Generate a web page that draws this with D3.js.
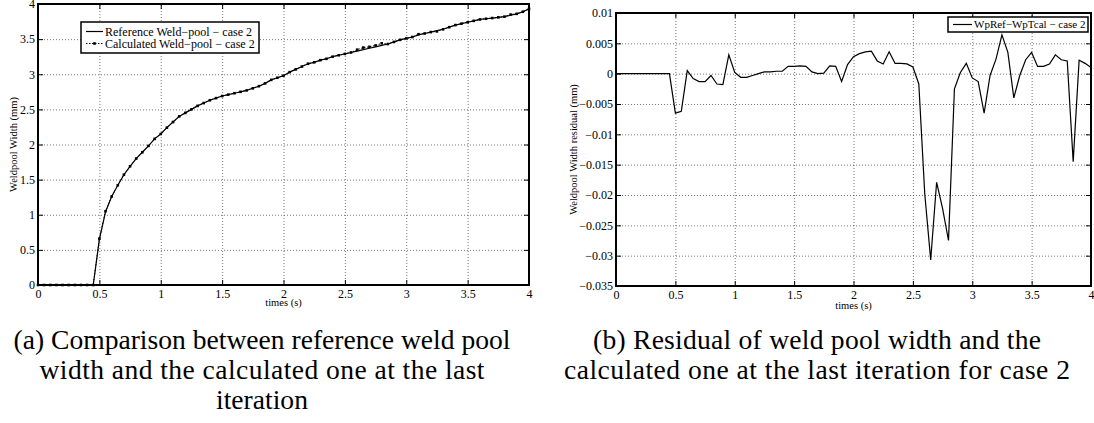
<!DOCTYPE html>
<html lang="en">
<head>
<meta charset="UTF-8" />
<title>Weld pool width - case 2</title>
<style>
  body { margin: 0; background: #fff; }
  .grid line { stroke: #555; stroke-width: 0.8; stroke-dasharray: 1,2; }
  .grid path, .ticks path { display: none; }
  .ticks line { stroke: #000; stroke-width: 1; }
</style>
</head>
<body>
<svg id="chart" width="1094" height="423"></svg>
<script src="https://cdn.jsdelivr.net/npm/d3@7/dist/d3.min.js"></script>
<script>
// sample times (s), every 0.05 s
var times = [0,0.05,0.1,0.15,0.2,0.25,0.3,0.35,0.4,0.45,
  0.5,0.55,0.6,0.65,0.7,0.75,0.8,0.85,0.9,0.95,
  1,1.05,1.1,1.15,1.2,1.25,1.3,1.35,1.4,1.45,
  1.5,1.55,1.6,1.65,1.7,1.75,1.8,1.85,1.9,1.95,
  2,2.05,2.1,2.15,2.2,2.25,2.3,2.35,2.4,2.45,
  2.5,2.55,2.6,2.65,2.7,2.75,2.8,2.85,2.9,2.95,
  3,3.05,3.1,3.15,3.2,3.25,3.3,3.35,3.4,3.45,
  3.5,3.55,3.6,3.65,3.7,3.75,3.8,3.85,3.9,3.95,4];

// reference weld pool width (mm)
var refWidth = [0,0,0,0,0,0,0,0,0,0,
  0.65,1.04,1.26,1.42,1.57,1.69,1.80,1.89,1.98,2.08,
  2.15,2.24,2.32,2.40,2.45,2.50,2.55,2.59,2.63,2.66,
  2.69,2.71,2.73,2.75,2.77,2.80,2.83,2.87,2.92,2.95,
  2.98,3.03,3.07,3.11,3.15,3.17,3.20,3.22,3.25,3.27,
  3.29,3.31,3.33,3.35,3.37,3.39,3.41,3.43,3.46,3.49,
  3.51,3.53,3.56,3.58,3.60,3.62,3.64,3.67,3.70,3.72,
  3.74,3.76,3.78,3.79,3.80,3.81,3.82,3.84,3.86,3.89,3.93];

// calculated weld pool width (mm)
var calcWidth = [0,0,0,0,0,0,0,0,0,0,
  0.66,1.05,1.26,1.42,1.57,1.69,1.80,1.89,1.98,2.08,
  2.15,2.24,2.32,2.40,2.45,2.50,2.55,2.59,2.63,2.66,
  2.69,2.71,2.73,2.75,2.77,2.80,2.83,2.87,2.92,2.95,
  2.98,3.03,3.07,3.11,3.15,3.17,3.20,3.22,3.25,3.27,
  3.29,3.31,3.35,3.38,3.39,3.41,3.44,3.43,3.46,3.49,
  3.51,3.53,3.57,3.58,3.60,3.61,3.64,3.67,3.70,3.72,
  3.74,3.76,3.78,3.79,3.80,3.81,3.82,3.85,3.86,3.89,3.93];

// WpRef - WpTcal (mm)
var residual = [0,0,0,0,0,0,0,0,0,0,
  -0.0065,-0.0062,0.0005,-0.0008,-0.0013,-0.0013,-0.0003,-0.0017,-0.0018,0.0031,
  0.0002,-0.0006,-0.0006,-0.0003,0.0000,0.0003,0.0003,0.0004,0.0004,0.0012,
  0.0012,0.0013,0.0012,0.0003,0.0000,0.0001,0.0013,0.0012,-0.0013,0.0015,
  0.0028,0.0033,0.0036,0.0037,0.0021,0.0016,0.0036,0.0017,0.0017,0.0016,
  0.0011,-0.0017,-0.0198,-0.0307,-0.0179,-0.0222,-0.0275,-0.0025,0.0002,0.0017,
  -0.0007,-0.0013,-0.0065,-0.0003,0.0024,0.0064,0.0035,-0.0040,-0.0003,0.0023,
  0.0035,0.0012,0.0012,0.0016,0.0031,0.0023,0.0021,-0.0145,0.0022,0.0017,0.0010];

var xTicks = [0,0.5,1,1.5,2,2.5,3,3.5,4];
var xTickLabels = ["0","0.5","1","1.5","2","2.5","3","3.5","4"];
var widthTicks = [0,0.5,1,1.5,2,2.5,3,3.5,4];
var widthTickLabels = ["0","0.5","1","1.5","2","2.5","3","3.5","4"];
var residualTicks = [-0.035,-0.03,-0.025,-0.02,-0.015,-0.01,-0.005,0,0.005,0.01];
var residualTickLabels = ["\u22120.035","\u22120.03","\u22120.025","\u22120.02","\u22120.015","\u22120.01","\u22120.005","0","0.005","0.01"];

var captionA = ["(a) Comparison between reference weld pool", "width and the calculated one at the last", "iteration"];
var captionB = ["(b) Residual of weld pool width and the", "calculated one at the last iteration for case 2"];
// rendered widths of the caption lines (null = natural width)
var captionAWidths = [497, 445, null];
var captionBWidths = [448, 506];

var serif = '"Liberation Serif", "DejaVu Serif", serif';
var svg = d3.select("#chart").style("font-family", serif);

function labelFn(ticks, labels) {
  return function(d) { return labels[ticks.indexOf(d)]; };
}

function addText(parent, size) {
  return parent.append("text").style("font-family", serif).style("font-size", size + "px").attr("fill", "#000");
}

// draws frame, grid, ticks and labels of one MATLAB-like panel
function panel(o) {
  var x = d3.scaleLinear().domain([0, 4]).range([o.left, o.right]);
  var y = d3.scaleLinear().domain(o.yDomain).range([o.bottom, o.top]);
  var h = o.bottom - o.top, w = o.right - o.left;

  svg.append("g").attr("class", "grid")
     .attr("transform", "translate(0," + o.bottom + ")")
     .call(d3.axisBottom(x).tickValues(xTicks.slice(1, -1)).tickSize(-h).tickFormat(""));
  svg.append("g").attr("class", "grid")
     .attr("transform", "translate(" + o.left + ",0)")
     .call(d3.axisLeft(y).tickValues(o.yTicks.slice(1, -1)).tickSize(-w).tickFormat(""));

  var bottom = svg.append("g").attr("class", "ticks")
     .attr("transform", "translate(0," + o.bottom + ")")
     .call(d3.axisBottom(x).tickValues(xTicks).tickSize(-5).tickPadding(4)
       .tickFormat(labelFn(xTicks, xTickLabels)));
  svg.append("g").attr("class", "ticks")
     .attr("transform", "translate(0," + o.top + ")")
     .call(d3.axisTop(x).tickValues(xTicks).tickSize(-5).tickFormat(""));
  var left = svg.append("g").attr("class", "ticks")
     .attr("transform", "translate(" + o.left + ",0)")
     .call(d3.axisLeft(y).tickValues(o.yTicks).tickSize(-5).tickPadding(3)
       .tickFormat(labelFn(o.yTicks, o.yLabels)));
  svg.append("g").attr("class", "ticks")
     .attr("transform", "translate(" + o.right + ",0)")
     .call(d3.axisRight(y).tickValues(o.yTicks).tickSize(-5).tickFormat(""));

  [bottom, left].forEach(function(g) {
    g.attr("font-family", serif).attr("font-size", 12);
    g.selectAll("text").style("font-family", serif).style("font-size", "12px");
  });

  svg.append("rect")
     .attr("x", o.left).attr("y", o.top)
     .attr("width", w).attr("height", h)
     .attr("fill", "none").attr("stroke", "#000").attr("stroke-width", 2);

  addText(svg, 10.5)
     .attr("x", (o.left + o.right) / 2).attr("y", o.bottom + o.xTitleDy)
     .attr("text-anchor", "middle")
     .text("times (s)");
  addText(svg, 10.5)
     .attr("transform", "translate(" + o.yLabelX + "," + ((o.top + o.bottom) / 2) + ") rotate(-90)")
     .attr("text-anchor", "middle").attr("dy", "0.35em")
     .text(o.yTitle);

  return { x: x, y: y };
}

// ---- left panel: widths
var pa = panel({ left: 38, right: 529, top: 4, bottom: 285,
  yDomain: [0, 4], yTicks: widthTicks, yLabels: widthTickLabels,
  yTitle: "Weldpool Width (mm)", yLabelX: 13, xTitleDy: 21 });

var lineRef = d3.line()
  .x(function(d, i) { return pa.x(times[i]); })
  .y(function(d) { return pa.y(d); });

svg.append("path").datum(refWidth)
   .attr("d", lineRef).attr("fill", "none")
   .attr("stroke", "#000").attr("stroke-width", 1.2);
svg.append("path").datum(calcWidth)
   .attr("d", lineRef).attr("fill", "none")
   .attr("stroke", "#000").attr("stroke-width", 1).attr("stroke-dasharray", "1.5,1.5");
svg.selectAll("rect.mk").data(calcWidth).enter().append("rect")
   .attr("class", "mk")
   .attr("x", function(d, i) { return pa.x(times[i]) - 1.3; })
   .attr("y", function(d) { return pa.y(d) - 1.3; })
   .attr("width", 2.6).attr("height", 2.6).attr("fill", "#000");

// legend (a)
var lg = svg.append("g");
lg.append("rect").attr("x", 81).attr("y", 22).attr("width", 178).attr("height", 31)
  .attr("fill", "#fff").attr("stroke", "#000").attr("stroke-width", 1.5);
lg.append("line").attr("x1", 86).attr("x2", 103).attr("y1", 31.5).attr("y2", 31.5)
  .attr("stroke", "#000").attr("stroke-width", 1.2);
lg.append("line").attr("x1", 86).attr("x2", 103).attr("y1", 43.5).attr("y2", 43.5)
  .attr("stroke", "#000").attr("stroke-width", 1).attr("stroke-dasharray", "1.5,1.5");
lg.append("rect").attr("x", 93.2).attr("y", 42.2).attr("width", 2.6).attr("height", 2.6).attr("fill", "#000");
addText(lg, 12).attr("x", 105).attr("y", 31.5).attr("dy", "0.35em")
  .text("Reference Weld\u2212pool \u2212 case 2");
addText(lg, 12).attr("x", 105).attr("y", 43.5).attr("dy", "0.35em")
  .text("Calculated Weld\u2212pool \u2212 case 2");

// ---- right panel: residual
var pb = panel({ left: 616, right: 1091, top: 13, bottom: 286,
  yDomain: [-0.035, 0.01], yTicks: residualTicks, yLabels: residualTickLabels,
  yTitle: "Weldpool Width residual (mm)", yLabelX: 573, xTitleDy: 23 });

var lineRes = d3.line()
  .x(function(d, i) { return pb.x(times[i]); })
  .y(function(d) { return pb.y(d); });

svg.append("path").datum(residual)
   .attr("d", lineRes).attr("fill", "none")
   .attr("stroke", "#000").attr("stroke-width", 1.2);

var lg2 = svg.append("g");
lg2.append("rect").attr("x", 948).attr("y", 17).attr("width", 140).attr("height", 15)
  .attr("fill", "#fff").attr("stroke", "#000").attr("stroke-width", 1.5);
lg2.append("line").attr("x1", 953).attr("x2", 972).attr("y1", 24.5).attr("y2", 24.5)
  .attr("stroke", "#000").attr("stroke-width", 1.2);
addText(lg2, 11).attr("x", 974).attr("y", 24.5).attr("dy", "0.35em")
  .text("WpRef\u2212WpTcal \u2212 case 2");

// ---- captions
var capA = svg.selectAll("text.capA").data(captionA).enter().append("text")
  .attr("class", "capA").attr("x", 262)
  .attr("y", function(d, i) { return 349 + i * 30; })
  .attr("text-anchor", "middle").style("font-family", serif).style("font-size", "24px")
  .text(function(d) { return d; });
var capB = svg.selectAll("text.capB").data(captionB).enter().append("text")
  .attr("class", "capB").attr("x", 817)
  .attr("y", function(d, i) { return 349 + i * 30; })
  .attr("text-anchor", "middle").style("font-family", serif).style("font-size", "24px")
  .text(function(d) { return d; });

// scale caption font so the first line spans like the figure
var fs = 24 * 497 / capA.node().getComputedTextLength();
capA.style("font-size", fs + "px");
capB.style("font-size", fs + "px");
capA.each(function(d, i) {
  if (captionAWidths[i]) d3.select(this).attr("textLength", captionAWidths[i]).attr("lengthAdjust", "spacing");
});
capB.each(function(d, i) {
  if (captionBWidths[i]) d3.select(this).attr("textLength", captionBWidths[i]).attr("lengthAdjust", "spacing");
});
</script>
</body>
</html>
